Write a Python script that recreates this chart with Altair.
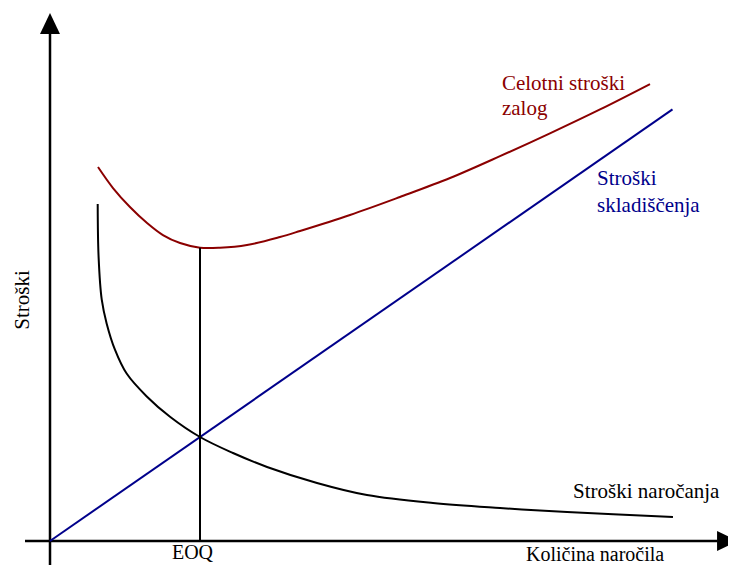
import altair as alt
import pandas as pd

# ---- data (arbitrary units: EOQ = 10 on the quantity axis) ----
# Stroški skladiščenja (holding cost) - straight line
hold_q = [0.0, 41.5]
hold_c = [0.0, 41.5]

# Stroški naročanja (ordering cost)
order_q = [3.18, 3.24, 3.45, 3.78, 4.33, 5.11, 6.45, 8.0, 10.0, 12.2, 14.47,
           17.8, 21.13, 25.53, 30.0, 34.47, 41.53]
order_c = [32.4, 27.3, 23.2, 20.9, 18.4, 16.1, 13.9, 11.95, 10.0, 8.46, 7.12,
           5.58, 4.42, 3.65, 3.17, 2.79, 2.31]

# Celotni stroški zalog (total cost)
total_q = [3.2, 4.2, 5.33, 6.47, 7.53, 8.67, 10.0, 11.33, 13.13, 15.33, 16.67,
           20.0, 23.33, 26.67, 30.0, 33.33, 36.67, 40.0]
total_c = [35.96, 33.94, 32.12, 30.58, 29.42, 28.65, 28.2, 28.2, 28.46, 29.23,
           29.81, 31.35, 33.08, 34.9, 37.0, 39.2, 41.5, 43.94]

eoq_q = 10.0
eoq_total = 28.2

# labels
label_texts = ["Celotni stroški\nzalog", "Stroški\nskladiščenja",
               "Stroški naročanja", "EOQ", "Količina naročila"]
label_q = [30.13, 36.47, 34.87, 8.13, 31.73]
label_c = [43.37, 34.23, 4.13, -1.73, -1.92]
label_colors = ["#8B0000", "#00008B", "#000000", "#000000", "#000000"]
label_lh = [25, 27, 22, 22, 22]
label_size = [21, 21, 21, 20, 20]
y_title = "Stroški"

# ---- layout: map data units onto the canvas ----
W, H = 720, 558
px_per_q, px_per_c = 15.0, 10.4
origin_x, origin_y = 50 - 8, 541 - 8   # origin inside svg
xmin = -origin_x / px_per_q
xmax = xmin + W / px_per_q
ymax = origin_y / px_per_c
ymin = ymax - H / px_per_c

xs = alt.Scale(domain=[xmin, xmax], nice=False, zero=False)
ys = alt.Scale(domain=[ymin, ymax], nice=False, zero=False)
FONT = "Liberation Serif"


def X(field="q"):
    return alt.X(f"{field}:Q", scale=xs, axis=None)


def Y(field="c"):
    return alt.Y(f"{field}:Q", scale=ys, axis=None)


hold_df = pd.DataFrame({"q": hold_q, "c": hold_c})
order_df = pd.DataFrame({"q": order_q, "c": order_c})
total_df = pd.DataFrame({"q": total_q, "c": total_c})

hold = alt.Chart(hold_df).mark_line(color="#00008B", strokeWidth=2).encode(x=X(), y=Y())
order = alt.Chart(order_df).mark_line(color="#000000", strokeWidth=2,
                                      interpolate="catmull-rom").encode(x=X(), y=Y())
total = alt.Chart(total_df).mark_line(color="#8B0000", strokeWidth=2,
                                      interpolate="catmull-rom").encode(x=X(), y=Y())

eoq_df = pd.DataFrame({"q": [eoq_q], "c": [0.0], "c2": [eoq_total]})
eoq = alt.Chart(eoq_df).mark_rule(color="black", strokeWidth=2).encode(
    x=X(), y=Y(), y2="c2:Q")

# axes drawn as arrows
xaxis_df = pd.DataFrame({"q": [xmin + 17 / px_per_q], "q2": [44.5], "c": [0.0]})
yaxis_df = pd.DataFrame({"q": [0.0], "c": [-24 / px_per_c], "c2": [48.75]})
xaxis = alt.Chart(xaxis_df).mark_rule(color="black", strokeWidth=2.5).encode(
    x=X(), x2="q2:Q", y=Y())
yaxis = alt.Chart(yaxis_df).mark_rule(color="black", strokeWidth=2.5).encode(
    x=X(), y=Y(), y2="c2:Q")

up_df = pd.DataFrame({"q": [0.0], "c": [49.76]})
right_df = pd.DataFrame({"q": [45.17], "c": [0.0]})
arrow_up = alt.Chart(up_df).mark_point(
    shape="M0,-1L-0.95,1L0.95,1Z", size=441, filled=True, color="black",
    opacity=1, strokeWidth=0).encode(x=X(), y=Y())
arrow_right = alt.Chart(right_df).mark_point(
    shape="M1,0L-1,-0.95L-1,0.95Z", size=441, filled=True, color="black",
    opacity=1, strokeWidth=0).encode(x=X(), y=Y())

label_layers = []
for t, q, c, col, lh, fs in zip(label_texts, label_q, label_c, label_colors,
                                label_lh, label_size):
    df = pd.DataFrame({"q": [q], "c": [c], "t": [t]})
    label_layers.append(
        alt.Chart(df).mark_text(
            align="left", baseline="alphabetic", font=FONT, fontSize=fs,
            color=col, lineBreak="\n", lineHeight=lh
        ).encode(x=X(), y=Y(), text="t:N")
    )

ytitle_df = pd.DataFrame({"q": [-1.8], "c": [23.17], "t": [y_title]})
ytitle = alt.Chart(ytitle_df).mark_text(
    align="center", baseline="middle", angle=270, font=FONT, fontSize=21,
    color="black"
).encode(x=X(), y=Y(), text="t:N")

chart = alt.layer(
    xaxis, yaxis, arrow_up, arrow_right, hold, order, total, eoq, ytitle,
    *label_layers
).properties(
    width=W, height=H, padding=0, autosize=alt.AutoSizeParams(type="none")
).configure_view(strokeWidth=0)

chart.save("out.html", embed_options={"renderer": "svg", "actions": False})
